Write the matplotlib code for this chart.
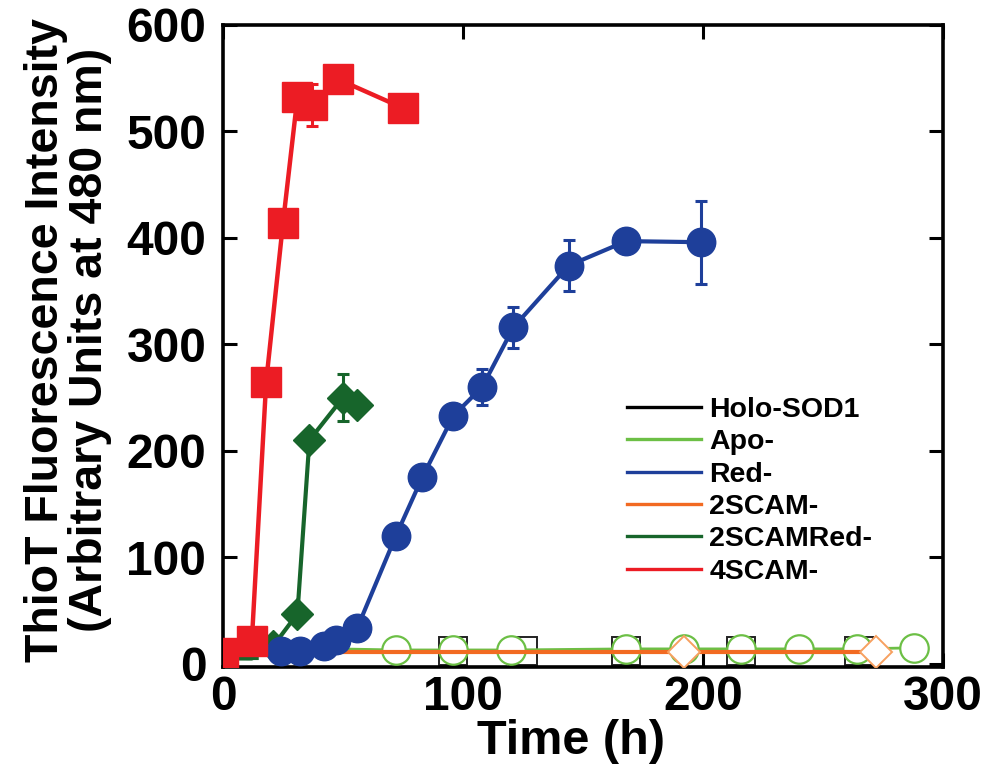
import matplotlib
matplotlib.use("Agg")
import matplotlib.pyplot as plt
from matplotlib.lines import Line2D

plt.rcParams['font.family'] = ['Liberation Sans', 'DejaVu Sans']
plt.rcParams['font.weight'] = 'bold'

# --- data (time in hours, ThioT fluorescence in a.u.) ---
holo_t = [0, 24, 48, 96, 125, 168, 216, 265]
holo_y = [12, 12, 12, 12, 12, 12, 12, 12]

apo_t = [0, 24, 48, 72, 96, 120, 168, 192, 216, 240, 264, 288]
apo_y = [14, 14, 14, 13, 13, 13, 14, 14, 14, 14, 14, 15]

scam2_t = [0, 24, 48, 72, 96, 120, 168, 192, 216, 240, 272]
scam2_y = [11, 11, 11, 11, 11, 11, 11, 11, 11, 11, 11]

red_t = [24, 32, 42, 47, 56, 72, 83, 96, 108, 121, 144, 168, 199]
red_y = [12, 12, 17, 22, 34, 120, 175, 233, 260, 316, 374, 397, 396]
red_err = [0, 0, 0, 0, 0, 10, 0, 0, 17, 19, 24, 8, 39]

scamred_t = [0, 12, 21, 31, 36, 50, 56]
scamred_y = [5, 5, 17, 47, 210, 250, 243]
scamred_err = [0, 0, 0, 0, 0, 22, 0]

scam4_t = [0, 12, 18, 25, 31, 37, 48, 75]
scam4_y = [10, 21, 265, 414, 532, 525, 549, 522]
scam4_err = [0, 0, 0, 10, 10, 20, 0, 8]

labels = ["Holo-SOD1", "Apo-", "Red-", "2SCAM-", "2SCAMRed-", "4SCAM-"]
colors = ["#000000", "#6cbf45", "#1e3f9a", "#f26a22", "#17652b", "#ec1c24"]

fig = plt.figure(figsize=(9.82, 7.69), dpi=100)
ax = fig.add_axes([223 / 982, 1 - 667 / 769, 720 / 982, 642 / 769])

# near-baseline controls: open markers
ax.plot(holo_t, holo_y, color=colors[0], lw=2.0, marker='s', ms=20.5,
        mfc='white', mec='#222222', mew=1.4, zorder=2,
        markevery=list(range(3, len(holo_t))))
ax.plot(apo_t, apo_y, color=colors[1], lw=2.0, marker='o', ms=20.5,
        mfc='white', mec=colors[1], mew=1.6, zorder=3,
        markevery=list(range(3, len(apo_t))))
ax.plot(scam2_t, scam2_y, color=colors[3], lw=3.0, marker='D', ms=16,
        mfc='white', mec='#f7a060', mew=1.4, zorder=3.5, markevery=[7, 10])

# aggregating variants with error bars
ax.errorbar(red_t, red_y, yerr=red_err, color=colors[2], lw=3.0, marker='o',
            ms=20.5, elinewidth=2.2, capsize=4.5, capthick=2.2, zorder=5)
ax.errorbar(scamred_t, scamred_y, yerr=scamred_err, color=colors[4], lw=3.0,
            marker='D', ms=16, elinewidth=2.2, capsize=4.5, capthick=2.2,
            zorder=4, markevery=[2, 3, 4, 5, 6])
ax.errorbar(scam4_t, scam4_y, yerr=scam4_err, color=colors[5], lw=3.2,
            marker='s', ms=21, elinewidth=2.2, capsize=4.5, capthick=2.2,
            zorder=6)

ax.set_xlim(0, 300)
ax.set_ylim(-3, 600)
ax.set_xticks([0, 100, 200, 300])
ax.set_yticks([0, 100, 200, 300, 400, 500, 600])
ax.tick_params(direction='in', length=10, width=2.2, top=True, right=True,
               labelsize=34.5)
ax.tick_params(axis='y', pad=12)
ax.tick_params(axis='x', pad=6)
for lab in ax.get_xticklabels() + ax.get_yticklabels():
    lab.set_fontweight('bold')
for sp in ax.spines.values():
    sp.set_linewidth(2.6)

fig.text(571 / 982, 1 - 742 / 769, "Time (h)", ha='center', va='center',
         fontsize=35, fontweight='bold')
fig.text(68 / 982, 1 - 340 / 769,
         "ThioT Fluorescence Intensity\n(Arbitrary Units at 480 nm)",
         ha='center', va='center', rotation=90, fontsize=33.5,
         fontweight='bold', linespacing=1.0)

handles = [Line2D([0], [0], color=c, lw=2.4) for c in colors]
ax.legend(handles, labels, loc='upper left', bbox_to_anchor=(0.545, 0.438),
          frameon=False, handlelength=2.6, handletextpad=0.3,
          labelspacing=0.22, borderaxespad=0,
          prop={'weight': 'bold', 'size': 20.5})

fig.savefig("out.png", dpi=100)
